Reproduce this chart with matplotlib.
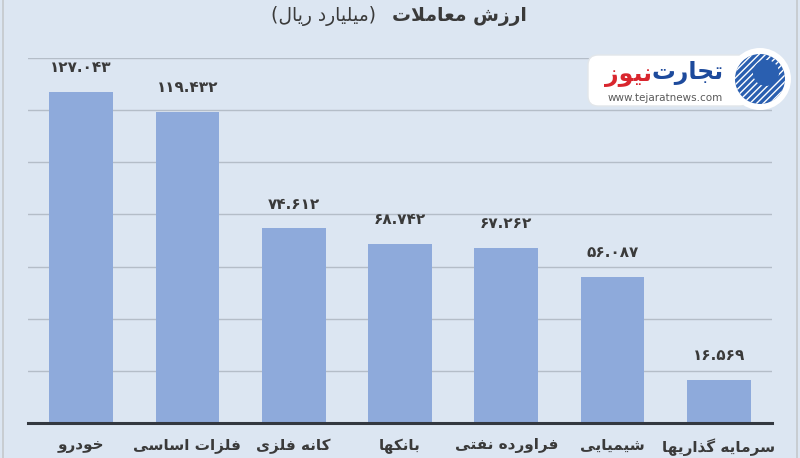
# ============================================================
# ارزش معاملات گروه‌های بورسی (میلیارد ریال)
# ============================================================
import matplotlib.pyplot as plt
from matplotlib.patches import FancyBboxPatch, Circle
from matplotlib.lines import Line2D

# ==========================
# Data
# ==========================
categories = ["خودرو", "فلزات اساسی", "کانه فلزی", "بانکها",
              "فراورده نفتی", "شیمیایی", "سرمایه گذاریها"]
values = [127.043, 119.432, 74.612, 68.742, 67.262, 56.087, 16.569]
value_labels = ["۱۲۷.۰۴۳", "۱۱۹.۴۳۲", "۷۴.۶۱۲", "۶۸.۷۴۲",
                "۶۷.۲۶۲", "۵۶.۰۸۷", "۱۶.۵۶۹"]
grid_ticks = [20, 40, 60, 80, 100, 120, 140]

title_bold = "ارزش معاملات"
title_unit = "میلیارد ریال"

# ==========================
# Simple Arabic/Persian shaping (matplotlib has no RTL layout)
# forms: isolated, final, initial, medial
# ==========================
FORMS = {
    "ا": ("\uFE8D", "\uFE8E", None, None),
    "ب": ("\uFE8F", "\uFE90", "\uFE91", "\uFE92"),
    "ت": ("\uFE95", "\uFE96", "\uFE97", "\uFE98"),
    "ج": ("\uFE9D", "\uFE9E", "\uFE9F", "\uFEA0"),
    "خ": ("\uFEA5", "\uFEA6", "\uFEA7", "\uFEA8"),
    "د": ("\uFEA9", "\uFEAA", None, None),
    "ذ": ("\uFEAB", "\uFEAC", None, None),
    "ر": ("\uFEAD", "\uFEAE", None, None),
    "ز": ("\uFEAF", "\uFEB0", None, None),
    "س": ("\uFEB1", "\uFEB2", "\uFEB3", "\uFEB4"),
    "ش": ("\uFEB5", "\uFEB6", "\uFEB7", "\uFEB8"),
    "ع": ("\uFEC9", "\uFECA", "\uFECB", "\uFECC"),
    "ف": ("\uFED1", "\uFED2", "\uFED3", "\uFED4"),
    "ل": ("\uFEDD", "\uFEDE", "\uFEDF", "\uFEE0"),
    "م": ("\uFEE1", "\uFEE2", "\uFEE3", "\uFEE4"),
    "ن": ("\uFEE5", "\uFEE6", "\uFEE7", "\uFEE8"),
    "ه": ("\uFEE9", "\uFEEA", "\uFEEB", "\uFEEC"),
    "و": ("\uFEED", "\uFEEE", None, None),
    "ی": ("\uFBFC", "\uFBFD", "\uFBFE", "\uFBFF"),
    "ک": ("\uFB8E", "\uFB8F", "\uFB90", "\uFB91"),
    "گ": ("\uFB92", "\uFB93", "\uFB94", "\uFB95"),
}


def joins_left(ch):
    # letter can connect to the following letter
    return ch in FORMS and FORMS[ch][2] is not None


def shape(text):
    out = []
    i = 0
    n = len(text)
    while i < n:
        ch = text[i]
        if ch not in FORMS:
            out.append(ch)
            i += 1
            continue
        prev_join = i > 0 and joins_left(text[i - 1])
        # lam + alef ligature
        if ch == "ل" and i + 1 < n and text[i + 1] == "ا":
            out.append("\uFEFC" if prev_join else "\uFEFB")
            i += 2
            continue
        next_join = joins_left(ch) and i + 1 < n and text[i + 1] in FORMS
        iso, fin, ini, med = FORMS[ch]
        if prev_join and next_join:
            out.append(med)
        elif prev_join:
            out.append(fin)
        elif next_join:
            out.append(ini)
        else:
            out.append(iso)
        i += 1
    return "".join(reversed(out))


# ==========================
# Style
# ==========================
bg = "#dce6f2"
bar_color = "#8eaadb"
text_color = "#3a3a3a"

plt.rcParams["font.family"] = ["DejaVu Sans"]

fig = plt.figure(figsize=(8, 4.58), dpi=100, facecolor=bg)
ax = fig.add_axes([0.035, 0.0764, 0.93, 0.797])
ax.set_facecolor("none")

x = list(range(len(categories)))
bars = ax.bar(x, values, width=0.6, color=bar_color, zorder=2)

for b, lab in zip(bars, value_labels):
    ax.annotate(lab, (b.get_x() + b.get_width() / 2, b.get_height()),
                xytext=(0, 12), textcoords="offset points",
                ha="center", va="bottom", fontsize=11, fontweight="bold",
                color=text_color)

ax.set_xlim(-0.5, len(categories) - 0.5)
ax.set_ylim(0, 140)
ax.set_yticks(grid_ticks)
ax.set_yticklabels([])
ax.tick_params(axis="y", length=0)
ax.grid(axis="y", color="#b4bdc8", linewidth=1, zorder=1)

ax.set_xticks(x)
ax.set_xticklabels([shape(c) for c in categories], fontsize=11,
                   fontweight="bold", color=text_color)
ax.tick_params(axis="x", length=0, pad=11)

for s in ["top", "right", "left"]:
    ax.spines[s].set_visible(False)
ax.spines["bottom"].set_color("#333840")
ax.spines["bottom"].set_linewidth(2.2)
ax.spines["bottom"].set_zorder(3)

# ==========================
# Title + frame + logo (pixel overlay)
# ==========================
ov = fig.add_axes([0, 0, 1, 1], zorder=5)
ov.set_xlim(0, 800)
ov.set_ylim(458, 0)
ov.axis("off")

ov.text(527, 16, shape(title_bold), ha="right", va="center",
        fontsize=13.5, fontweight="bold", color=text_color)
ov.text(376, 16, "(" + shape(title_unit) + ")", ha="right", va="center",
        fontsize=13.5, color=text_color)

ov.add_line(Line2D([3, 3], [0, 458], color="#c4c8cc", linewidth=1.2))
ov.add_line(Line2D([797, 797], [0, 458], color="#c4c8cc", linewidth=1.2))

ov.add_patch(FancyBboxPatch((588, 55), 162, 51,
                            boxstyle="round,pad=0,rounding_size=10",
                            facecolor="white", edgecolor="#e2e6ea", linewidth=1))
ov.add_patch(Circle((760, 79), 31, facecolor="white", edgecolor="none"))
ov.add_patch(Circle((760, 79), 25, facecolor="#2a5fb0", edgecolor="white",
                    linewidth=0, hatch="/////"))
ov.add_patch(Circle((766, 73), 13, facecolor="#2a5fb0", edgecolor="none"))
ov.text(724, 73, shape("تجارت"), ha="right", va="center", fontsize=17,
        fontweight="bold", color="#1d4a9c")
ov.text(652, 75, shape("نیوز"), ha="right", va="center", fontsize=17,
        fontweight="bold", color="#d9262e")
ov.text(665, 98, "www.tejaratnews.com", ha="center", va="center",
        fontsize=7.5, color="#5a5a5a")

fig.savefig("out.png", dpi=100, facecolor=bg)
